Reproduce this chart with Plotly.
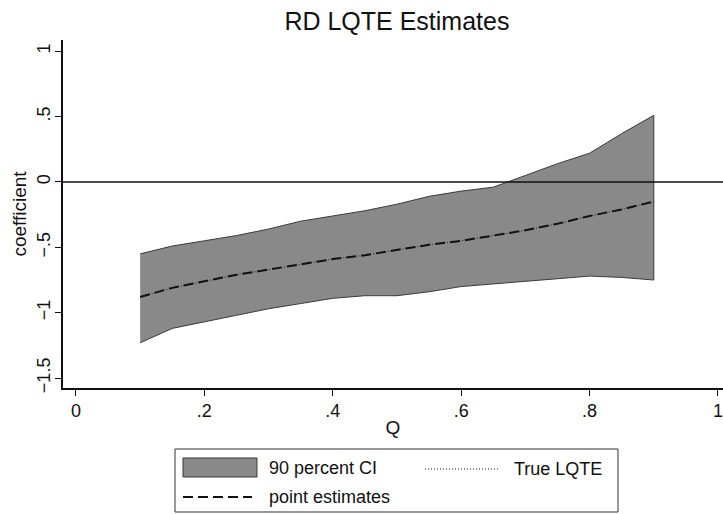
import plotly.graph_objects as go

# Quantiles and estimates
q = [0.10, 0.15, 0.20, 0.25, 0.30, 0.35, 0.40, 0.45, 0.50,
     0.55, 0.60, 0.65, 0.70, 0.75, 0.80, 0.85, 0.90]
ci_upper = [-0.55, -0.49, -0.45, -0.41, -0.36, -0.30, -0.26, -0.22, -0.17,
            -0.11, -0.07, -0.04, 0.05, 0.14, 0.22, 0.37, 0.51]
ci_lower = [-1.23, -1.12, -1.07, -1.02, -0.97, -0.93, -0.89, -0.87, -0.87,
            -0.84, -0.80, -0.78, -0.76, -0.74, -0.72, -0.73, -0.75]
point_est = [-0.88, -0.81, -0.76, -0.71, -0.67, -0.63, -0.59, -0.56, -0.52,
             -0.48, -0.45, -0.41, -0.37, -0.32, -0.26, -0.21, -0.15]
true_lqte = [-0.88, -0.81, -0.76, -0.71, -0.67, -0.63, -0.59, -0.56, -0.52,
             -0.48, -0.45, -0.41, -0.37, -0.32, -0.26, -0.21, -0.15]

x_ticks = [0, 0.2, 0.4, 0.6, 0.8, 1]
x_ticklabels = ["0", ".2", ".4", ".6", ".8", "1"]
y_ticks = [-1.5, -1, -0.5, 0, 0.5, 1]
y_ticklabels = ["\u22121.5", "\u22121", "\u2212.5", "0", ".5", "1"]

legend_labels = ["90 percent CI", "True LQTE", "point estimates"]

FONT = "Liberation Sans, Arial, sans-serif"
INK = "#111111"
BAND = "#898989"
BAND_EDGE = "#3a3a3a"
DASH = "10px,5px"
DOT = "1px,2px"

fig = go.Figure()
fig.add_trace(go.Scatter(
    x=q + q[::-1], y=ci_upper + ci_lower[::-1],
    fill="toself", fillcolor=BAND, line=dict(color=BAND_EDGE, width=1),
    mode="lines", name=legend_labels[0], showlegend=False, hoverinfo="skip"))
fig.add_trace(go.Scatter(
    x=q, y=true_lqte, mode="lines", name=legend_labels[1], showlegend=False,
    line=dict(color="#222222", width=1, dash=DOT)))
fig.add_trace(go.Scatter(
    x=q, y=point_est, mode="lines", name=legend_labels[2], showlegend=False,
    line=dict(color=INK, width=2, dash=DASH)))

# horizontal reference line at zero
fig.add_shape(type="line", xref="paper", yref="y", x0=0, x1=1, y0=0, y1=0,
              line=dict(color=INK, width=1.5), layer="above")

# ---- legend box (drawn in paper coordinates) ----
fig.add_shape(type="rect", xref="paper", yref="paper",
              x0=0.1697, x1=0.8409, y0=-0.3563, y1=-0.1753,
              line=dict(color="#333333", width=1), fillcolor="white")
fig.add_shape(type="rect", xref="paper", yref="paper",
              x0=0.1818, x1=0.2939, y0=-0.2557, y1=-0.2011,
              line=dict(color=BAND_EDGE, width=1), fillcolor=BAND)
fig.add_shape(type="line", xref="paper", yref="paper",
              x0=0.5485, x1=0.6591, y0=-0.2328, y1=-0.2328,
              line=dict(color="#222222", width=1, dash=DOT))
fig.add_shape(type="line", xref="paper", yref="paper",
              x0=0.1818, x1=0.2864, y0=-0.3132, y1=-0.3132,
              line=dict(color=INK, width=2, dash=DASH))
for txt, lx, ly in [(legend_labels[0], 0.3091, -0.2299),
                    (legend_labels[1], 0.6803, -0.2328),
                    (legend_labels[2], 0.3091, -0.3132)]:
    fig.add_annotation(text=txt, xref="paper", yref="paper", x=lx, y=ly,
                       xanchor="left", yanchor="middle", showarrow=False,
                       font=dict(size=18, family=FONT, color=INK))

fig.update_layout(
    width=723, height=514,
    margin=dict(l=63, r=0, t=40, b=126),
    paper_bgcolor="white", plot_bgcolor="white",
    font=dict(family=FONT, color=INK, size=18),
    showlegend=False,
    title=dict(text="RD LQTE Estimates", x=0.549, xanchor="center", y=0.959,
               yanchor="middle", font=dict(size=25, family=FONT, color=INK)),
    xaxis=dict(range=[-0.0202, 1.0078], tickvals=x_ticks, ticktext=x_ticklabels,
               showgrid=False, zeroline=False, showline=True, linecolor=INK,
               linewidth=1.5, ticks="outside", ticklen=6, tickcolor=INK,
               tickfont=dict(size=18), ticklabeloverflow="allow",
               title=dict(text="Q", font=dict(size=19), standoff=0)),
    yaxis=dict(range=[-1.576, 1.086], tickvals=y_ticks, ticktext=y_ticklabels,
               showgrid=False, zeroline=False, showline=True, linecolor=INK,
               linewidth=1.5, ticks="outside", ticklen=6, tickcolor=INK,
               tickangle=-90, tickfont=dict(size=18), ticklabelstandoff=-2,
               title=dict(text="coefficient", font=dict(size=19), standoff=2)),
)

fig.write_html("out.html", config={"displayModeBar": False},
               post_script="document.body.style.margin='0';")
